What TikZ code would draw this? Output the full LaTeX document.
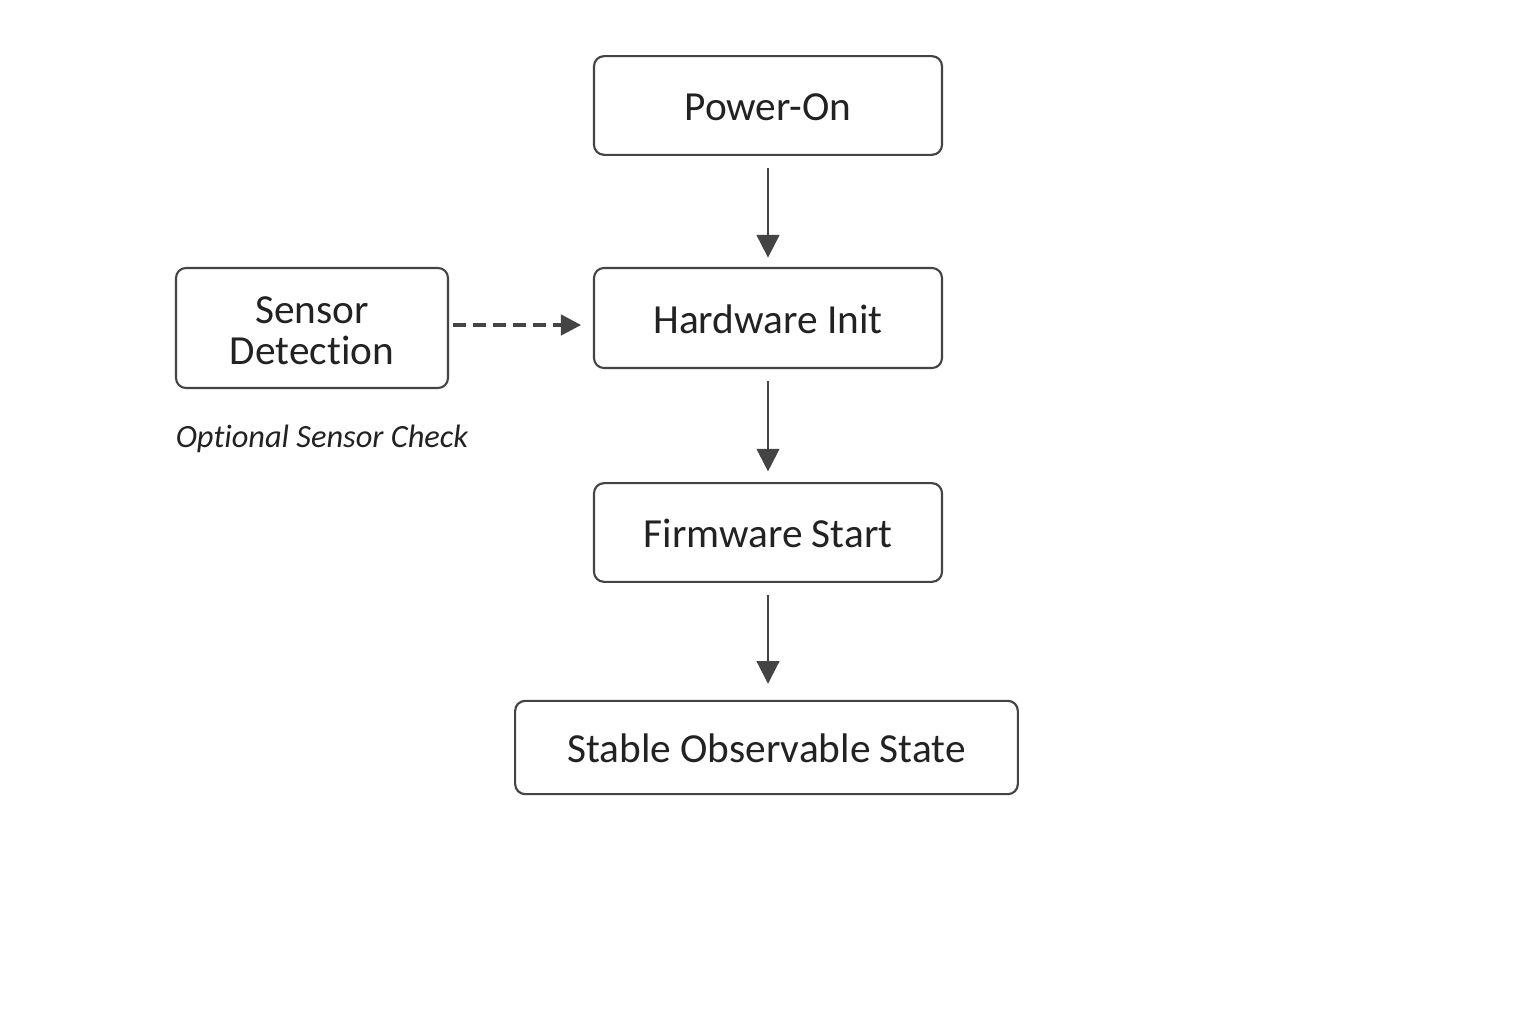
\documentclass[tikz,border=0pt]{standalone}
\usepackage{fontspec}
\setmainfont[Ligatures=NoCommon]{Carlito}
\usetikzlibrary{arrows.meta}
\definecolor{ln}{HTML}{444444}
\definecolor{tx}{HTML}{222222}
\begin{document}
\begin{tikzpicture}[x=0.75pt,y=-0.75pt,
  box/.style={draw=ln,line width=1.6pt,rounded corners=7.5pt,inner sep=0pt,align=center,text=tx,font=\fontsize{31}{31}\selectfont},
  arr/.style={draw=ln,line width=1.6pt,-{Triangle[length=17pt,width=17pt]}}]
\useasboundingbox (0,0) rectangle (1536,1024);
\fill[white] (0,0) rectangle (1536,1024);
\node[box,minimum width=261pt,minimum height=74pt,text height=23pt] (p) at (768,105.5) {Power-On};
\node[box,minimum width=261pt,minimum height=75pt,text height=23pt] (h) at (768,318) {Hardware Init};
\node[box,minimum width=261pt,minimum height=74pt,text height=23pt] (f) at (768,532.5) {Firmware Start};
\node[box,minimum width=377pt,minimum height=70pt,text height=23pt] (s) at (766.5,747.5) {Stable Observable State};
\node[box,minimum width=204pt,minimum height=90pt] (d) at (312,328) {\rule{0pt}{24pt}Sensor\\Detection};
\node[text=tx,font=\fontsize{24.3}{26}\selectfont\itshape] (l) at (322,439) {Optional Sensor Check};
\draw[arr] ([yshift=-9pt]p.south) -- ([yshift=7pt]h.north);
\draw[arr] ([yshift=-9pt]h.south) -- ([yshift=8pt]f.north);
\draw[arr] ([yshift=-9pt]f.south) -- ([yshift=12pt]s.north -| f.south);
\draw[draw=ln,line width=2.6pt,dash pattern=on 10pt off 5pt,-{Triangle[length=15pt,width=16pt,line width=0pt]}] ([xshift=3pt]d.east |- 0,325) -- ([xshift=-9pt]h.west |- 0,325);
\end{tikzpicture}
\end{document}
